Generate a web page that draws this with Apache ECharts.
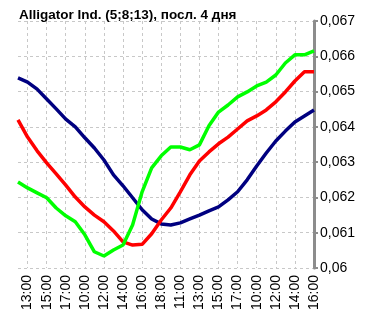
<!DOCTYPE html>
<html>
<head>
<meta charset="utf-8">
<script src="https://cdn.jsdelivr.net/npm/echarts@6/dist/echarts.min.js"></script>
<style>
  html, body { margin: 0; padding: 0; background: #fff; }
  #chart { width: 369px; height: 324px; }
</style>
</head>
<body>
<div id="chart"></div>
<script>
// hourly points, 4 trading days
const hours = [
  "12:00", "13:00", "14:00", "15:00", "16:00", "17:00", "18:00",
  "10:00", "11:00", "12:00", "13:00", "14:00", "15:00", "16:00", "17:00", "18:00",
  "10:00", "11:00", "12:00", "13:00", "14:00", "15:00", "16:00", "17:00", "18:00",
  "10:00", "11:00", "12:00", "13:00", "14:00", "15:00", "16:00"
];

// jaw (13)
const jaw = [
  0.06539, 0.06527, 0.06507, 0.06479, 0.06451, 0.06422, 0.06400, 0.06369,
  0.06340, 0.06306, 0.06264, 0.06233, 0.06199, 0.06165, 0.06139, 0.06125,
  0.06122, 0.06128, 0.06139, 0.06150, 0.06162, 0.06173, 0.06193, 0.06216,
  0.06250, 0.06289, 0.06326, 0.06360, 0.06388, 0.06414, 0.06431, 0.06448
];

// teeth (8)
const teeth = [
  0.06420, 0.06371, 0.06332, 0.06298, 0.06267, 0.06235, 0.06201, 0.06173,
  0.06150, 0.06131, 0.06105, 0.06074, 0.06065, 0.06067, 0.06097, 0.06136,
  0.06170, 0.06216, 0.06264, 0.06303, 0.06329, 0.06352, 0.06371, 0.06394,
  0.06417, 0.06431, 0.06448, 0.06471, 0.06499, 0.06530, 0.06556, 0.06556
];

// lips (5)
const lips = [
  0.06244, 0.06227, 0.06213, 0.06199, 0.06170, 0.06148, 0.06131, 0.06094,
  0.06046, 0.06034, 0.06051, 0.06065, 0.06122, 0.06216, 0.06284, 0.06318,
  0.06343, 0.06343, 0.06335, 0.06349, 0.06403, 0.06442, 0.06462, 0.06485,
  0.06499, 0.06516, 0.06527, 0.06547, 0.06581, 0.06604, 0.06604, 0.06615
];

const font = "Liberation Sans";
const everyOther = (idx) => idx % 2 === 1;

let chart = echarts.init(document.getElementById("chart"));
chart.setOption({
  animation: false,
  title: {
    text: "Alligator Ind. (5;8;13), посл. 4 дня",
    left: 14,
    top: 3,
    textStyle: { fontFamily: font, fontSize: 13.5, fontWeight: "bold", color: "#000" },
  },
  grid: { left: 18, right: 55, top: 21, bottom: 56 },
  xAxis: {
    type: "category",
    data: hours,
    boundaryGap: false,
    axisLine: { show: false },
    axisTick: { show: false },
    axisLabel: {
      interval: everyOther,
      rotate: 90,
      margin: 7,
      fontFamily: font,
      fontSize: 14,
      color: "#000",
    },
    splitLine: {
      show: true,
      interval: everyOther,
      lineStyle: { color: "#c8c8c8", type: [3, 3], width: 1 },
    },
  },
  yAxis: {
    type: "value",
    position: "right",
    min: 0.06,
    max: 0.067,
    interval: 0.001,
    axisLine: { show: true, lineStyle: { color: "#8c8c8c", width: 3 } },
    axisTick: { show: true, length: 4, lineStyle: { color: "#8c8c8c", width: 2 } },
    axisLabel: {
      margin: 6,
      fontFamily: font,
      fontSize: 14,
      color: "#000",
      formatter: (v) => String(+v.toFixed(3)).replace(".", ","),
    },
    splitLine: { show: true, lineStyle: { color: "#c8c8c8", type: [3, 3], width: 1 } },
  },
  series: [
    { name: "jaw", type: "line", data: jaw, showSymbol: false, lineStyle: { color: "#000080", width: 3.5 } },
    { name: "teeth", type: "line", data: teeth, showSymbol: false, lineStyle: { color: "#ff0000", width: 3.5 } },
    { name: "lips", type: "line", data: lips, showSymbol: false, lineStyle: { color: "#00ff00", width: 3.5 } },
  ],
});
</script>
</body>
</html>
